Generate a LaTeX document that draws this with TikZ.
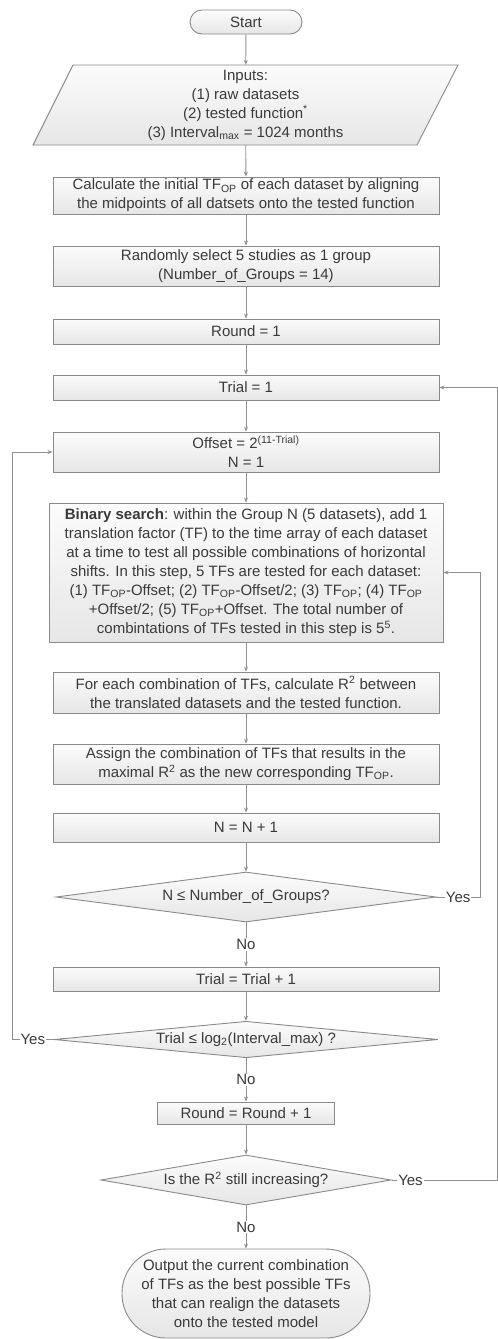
\documentclass[tikz,border=0pt]{standalone}
\usepackage{fontspec}
\setmainfont{Liberation Sans}
\usepackage{xcolor}
\usetikzlibrary{shapes.geometric,arrows.meta}

\definecolor{edgegray}{HTML}{8A8A8A}
\definecolor{wiregray}{HTML}{8F8F8F}
\definecolor{txtgray}{HTML}{3A3A3A}
\definecolor{filltop}{HTML}{FCFCFC}
\definecolor{fillbot}{HTML}{E6E6E6}

\begin{document}
\begin{tikzpicture}[
    x=1pt,y=-1pt,
    every node/.style={font=\fontsize{15}{19}\selectfont,text=txtgray},
    shade/.style={draw=edgegray,line width=0.9pt,top color=filltop,bottom color=fillbot},
    box/.style={rectangle,shade,minimum width=386pt,inner sep=1pt,align=center},
    term/.style={box,rounded corners=12pt},
    decision/.style={diamond,shade,aspect=8,inner sep=0pt,align=center},
    wire/.style={draw=wiregray,line width=0.9pt,-{Stealth[length=5pt,width=4pt]}},
    lbl/.style={fill=white,inner sep=1pt}
]
\useasboundingbox (0,0) rectangle (498,1339);

% Top part
\node[term,minimum width=112pt,minimum height=24pt] (start) at (246,22) {Start};
\path[shade] (73,65) -- (458,65) -- (417,145) -- (33,145) -- cycle;
\node[align=center,minimum height=80pt,inner sep=0pt] (inputs) at (245.5,105)
    {Inputs:\\(1) raw datasets\\(2) tested function\textsuperscript{*}\\(3) Interval\textsubscript{max} = 1024 months};
\node[box,minimum height=37pt] (calc) at (246,195.5)
    {Calculate the initial TF\textsubscript{OP} of each dataset by aligning\\the midpoints of all datsets onto the tested function};
\node[box,minimum height=40pt] (groups) at (246,266)
    {Randomly select 5 studies as 1 group\\(Number\_of\_Groups = 14)};
\node[box,minimum height=25pt] (round) at (246,331.5) {Round = 1};
\node[box,minimum height=25pt] (trial) at (246,387.5) {Trial = 1};
\node[box,minimum height=40pt] (offset) at (246,452) {Offset = 2\textsuperscript{(11-Trial)}\\N = 1};

% Search loop
\node[box,minimum width=394pt,minimum height=139pt] (search) at (246,572.5)
    {\textbf{Binary search}: within the Group N (5 datasets), add 1\\
     translation factor (TF) to the time array of each dataset\\
     at a time to test all possible combinations of horizontal\\
     shifts. In this step, 5 TFs are tested for each dataset:\\
     (1) TF\textsubscript{OP}-Offset; (2) TF\textsubscript{OP}-Offset/2; (3) TF\textsubscript{OP}; (4) TF\textsubscript{OP}\\
     +Offset/2; (5) TF\textsubscript{OP}+Offset. The total number of\\
     combintations of TFs tested in this step is 5\textsuperscript{5}.};
\node[box,minimum height=41pt] (rsq) at (246,692.5)
    {For each combination of TFs, calculate R\textsuperscript{2} between\\the translated datasets and the tested function.};
\node[box,minimum height=40pt] (assign) at (246,764)
    {Assign the combination of TFs that results in the\\maximal R\textsuperscript{2} as the new corresponding TF\textsubscript{OP}.};
\node[box,minimum height=29pt] (nnext) at (246,827.5) {N = N + 1};
\node[decision,minimum width=380pt,minimum height=50pt] (ncheck) at (246,897) {N ≤ Number\_of\_Groups?};
\node[box,minimum height=24pt] (tnext) at (246,979) {Trial = Trial + 1};
\node[decision,minimum width=384pt,minimum height=35pt] (tcheck) at (246,1039.5)
    {Trial ≤ log\textsubscript{2}(Interval\_max) ?};

% Bottom part
\node[box,minimum width=177pt,minimum height=22pt] (rnext) at (246,1113) {Round = Round + 1};
\node[decision,minimum width=248pt,minimum height=50pt] (rcheck) at (246,1180)
    {Is the R\textsuperscript{2} still increasing?};
\node[term,rounded corners=44pt,minimum width=248pt,minimum height=89pt] (output) at (246,1293.5)
    {Output the current combination\\of TFs as the best possible TFs\\that can realign the datasets\\onto the tested model};

% loop columns
\coordinate (leftcol) at (12,0);
\coordinate (rightcol) at (480,0);
\coordinate (edgecol) at (497,0);

% Main flow
\draw[wire] (start) -- (inputs);
\draw[wire] (inputs) -- (calc);
\draw[wire] (calc) -- (groups);
\draw[wire] (groups) -- (round);
\draw[wire] (round) -- (trial);
\draw[wire] (trial) -- (offset);
\draw[wire] (offset) -- (search);
\draw[wire] (search) -- (rsq);
\draw[wire] (rsq) -- (assign);
\draw[wire] (assign) -- (nnext);
\draw[wire] (nnext) -- (ncheck);
\draw[wire] (ncheck) -- node[lbl]{No} (tnext);
\draw[wire] (tnext) -- (tcheck);
\draw[wire] (tcheck) -- node[lbl]{No} (rnext);
\draw[wire] (rnext) -- (rcheck);
\draw[wire] (rcheck) -- node[lbl]{No} (output);

% Yes branches
\draw[wire] (ncheck.east) -- node[lbl]{Yes} (ncheck.east -| rightcol) |- (search.east);
\draw[wire] (tcheck.west) -- node[lbl]{Yes} (tcheck.west -| leftcol) |- (offset.west);
\draw[wire] (rcheck.east) -- node[lbl,pos=0.18]{Yes} (rcheck.east -| edgecol) |- (trial.east);

\end{tikzpicture}
\end{document}
